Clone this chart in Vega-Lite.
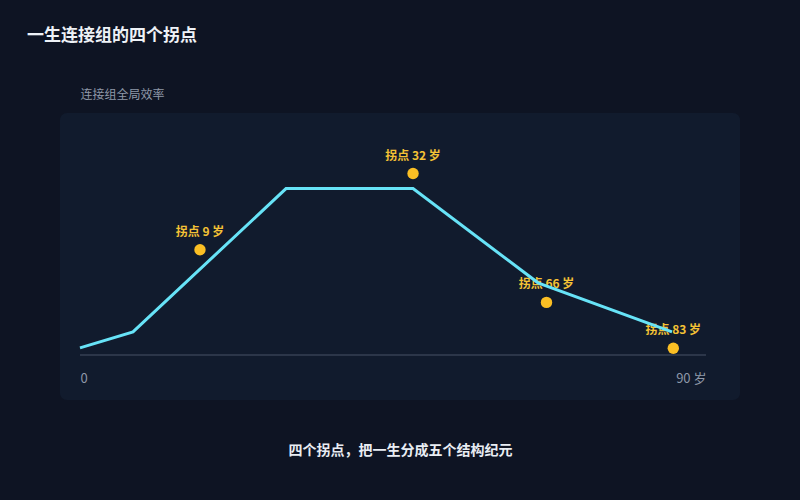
{
  "$schema": "https://vega.github.io/schema/vega-lite/v6.json",
  "description": "一生连接组的四个拐点",
  "width": 680,
  "height": 287,
  "autosize": {"type": "none"},
  "padding": {"left": 60, "top": 113, "right": 60, "bottom": 100},
  "background": "#0e1423",
  "view": {"fill": "#111b2d", "stroke": null, "cornerRadius": 7},
  "config": {"font": "Noto Sans CJK SC"},
  "title": {
    "text": "一生连接组的四个拐点",
    "anchor": "start",
    "frame": "group",
    "dx": -33,
    "offset": 43,
    "fontSize": 17,
    "fontWeight": "bold",
    "color": "#eef2f7",
    "font": "Noto Sans CJK SC"
  },
  "datasets": {
    "curve": [
      {"age": 0, "v": 0.042},
      {"age": 7.62, "v": 0.138},
      {"age": 29.62, "v": 0.994},
      {"age": 47.88, "v": 0.994},
      {"age": 65.85, "v": 0.431},
      {"age": 85.11, "v": 0.138}
    ],
    "turns": [
      {"age": 17.25, "v": 0.629, "label": "拐点 9 岁"},
      {"age": 47.88, "v": 1.084, "label": "拐点 32 岁"},
      {"age": 67.07, "v": 0.314, "label": "拐点 66 岁"},
      {"age": 85.3, "v": 0.04, "label": "拐点 83 岁"}
    ],
    "base": [{"age": 0, "age2": 90, "v": 0}]
  },
  "encoding": {
    "x": {
      "field": "age",
      "type": "quantitative",
      "scale": {"domain": [-2.875, 94.89], "nice": false, "zero": false},
      "axis": {
        "values": [0, 90],
        "domain": false,
        "ticks": false,
        "tickSize": 0,
        "grid": false,
        "labelFlush": false,
        "labelOverlap": false,
        "labelBound": false,
        "labelExpr": "datum.value == 90 ? '90 岁' : '0'",
        "labelAlign": {"condition": {"test": "datum.value == 0", "value": "left"}, "value": "right"},
        "labelPadding": -22,
        "labelBaseline": "middle",
        "labelFontSize": 13,
        "labelColor": "#8e98a8",
        "title": "四个拐点，把一生分成五个结构纪元",
        "titleFontSize": 14,
        "titleFontWeight": "bold",
        "titleColor": "#e9edf3",
        "titleX": 340,
        "titleY": 50,
        "titleAlign": "center",
        "titleBaseline": "middle"
      }
    },
    "y": {
      "field": "v",
      "type": "quantitative",
      "scale": {"domain": [-0.2695, 1.446], "nice": false, "zero": false},
      "axis": {
        "domain": false,
        "ticks": false,
        "labels": false,
        "grid": false,
        "title": "连接组全局效率",
        "titleAngle": 0,
        "titleX": 20,
        "titleY": -19,
        "titleAlign": "left",
        "titleBaseline": "middle",
        "titleFontSize": 12,
        "titleFontWeight": "normal",
        "titleColor": "#8e98a8"
      }
    }
  },
  "layer": [
    {
      "data": {"name": "base"},
      "mark": {"type": "rule", "color": "#364153", "strokeWidth": 1.5},
      "encoding": {"x2": {"field": "age2"}}
    },
    {
      "data": {"name": "turns"},
      "mark": {"type": "text", "dy": -18, "fontSize": 12, "fontWeight": "bold", "color": "#f4c235", "baseline": "middle"},
      "encoding": {"text": {"field": "label"}}
    },
    {
      "data": {"name": "curve"},
      "mark": {"type": "line", "color": "#67e3f7", "strokeWidth": 3},
      "encoding": {}
    },
    {
      "data": {"name": "turns"},
      "mark": {"type": "circle", "color": "#fbbf24", "size": 130, "opacity": 1},
      "encoding": {}
    }
  ]
}
